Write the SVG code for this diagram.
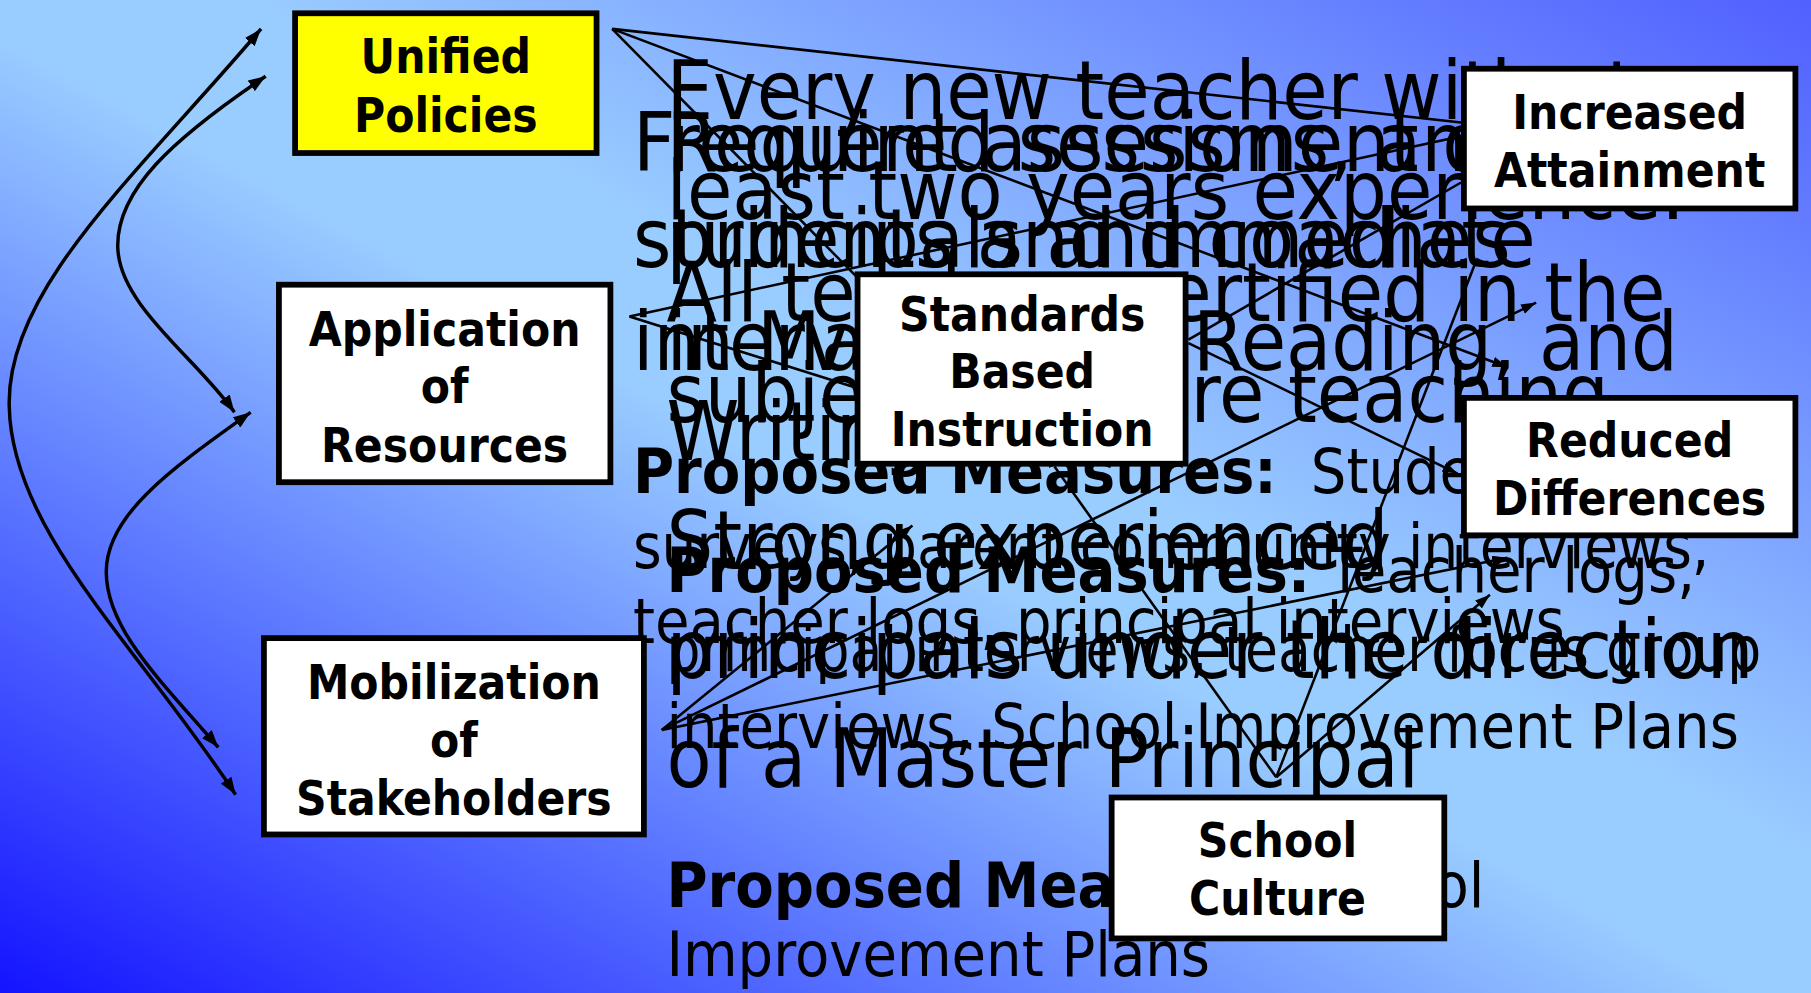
<svg xmlns="http://www.w3.org/2000/svg" width="1811" height="993" viewBox="0 0 1811 993">
<defs>
<linearGradient id="bg" x1="0" y1="1" x2="1" y2="0">
<stop offset="0" stop-color="#1414ff"/>
<stop offset="0.48" stop-color="#99ccff"/>
<stop offset="0.57" stop-color="#99ccff"/>
<stop offset="1" stop-color="#5060ff"/>
</linearGradient>
<marker id="ah" viewBox="0 0 15 11" refX="15" refY="5.5" markerWidth="15" markerHeight="11" markerUnits="userSpaceOnUse" orient="auto-start-reverse"><path d="M0,0 L15,5.5 L0,11 z" fill="#000"/></marker>
<marker id="as" viewBox="0 0 13 9" refX="13" refY="4.5" markerWidth="13" markerHeight="9" markerUnits="userSpaceOnUse" orient="auto"><path d="M0,0 L13,4.5 L0,9 z" fill="#000"/></marker>
</defs>
<style>
.t{font-family:'DejaVu Sans Condensed','DejaVu Sans',sans-serif;font-stretch:condensed;fill:#000}
.big{font-size:71px}
.m{font-size:54px}
.b{font-weight:bold}
.lbl{font-size:41px;font-weight:bold;text-anchor:middle}
.box{fill:#fff;stroke:#000;stroke-width:5}
.yel{fill:#ffff00}
.cv{fill:none;stroke:#000;stroke-width:3}
.ln{fill:none;stroke:#000;stroke-width:2.2}
</style>
<rect x="0" y="0" width="1811" height="993" fill="url(#bg)"/>
<g transform="scale(1.15497)">
<g id="texts">
<text class="t big" x="577" y="103">Every new teacher with at</text>
<text class="t big" x="577" y="190">least two years experience.</text>
<text class="t big" x="577" y="278">All teachers certified in the</text>
<text class="t big" x="577" y="365">subject they are teaching</text>
<text class="t big" x="548" y="148">Frequent assessment of</text>
<text class="t big" x="548" y="231">students and immediate</text>
<text class="t big" x="548" y="320">intervention</text>
<text class="t big" x="577" y="148">Required sessions, and</text>
<text class="t big" x="577" y="231">principals and coaches</text>
<text class="t big" x="577" y="320">in Math, <tspan x="1033">Reading, and</tspan></text>
<text class="t big" x="577" y="398">Writing</text>
<text class="t m" x="548" y="427"><tspan class="b">Proposed Measures:</tspan> <tspan dx="14">Student</tspan></text>
<text class="t m" x="548" y="492" textLength="932" lengthAdjust="spacingAndGlyphs">surveys, parent community interviews,</text>
<text class="t m" x="548" y="557">teacher logs, principal interviews</text>
<text class="t m" x="577" y="513"><tspan class="b">Proposed Measures:</tspan> Teacher logs,</text>
<text class="t m" x="577" y="581" textLength="948" lengthAdjust="spacingAndGlyphs">principal interviews, teacher focus group</text>
<text class="t m" x="577" y="648">interviews, School Improvement Plans</text>
<text class="t big" x="577" y="493">Strong experienced</text>
<text class="t big" x="577" y="587">principals under the direction</text>
<text class="t big" x="577" y="681">of a Master Principal</text>
<text class="t m" x="577" y="785"><tspan class="b">Proposed Measures:</tspan> <tspan x="1124">School</tspan></text>
<text class="t m" x="577" y="845">Improvement Plans</text>
</g>
<g id="connectors">
<path class="cv" d="M226,25 C120,150 5,250 8,352 C10,460 120,560 204,688" marker-start="url(#ah)" marker-end="url(#ah)"/>
<path class="cv" d="M230,66 C150,120 100,165 102,215 C104,265 170,310 203,357" marker-start="url(#ah)" marker-end="url(#ah)"/>
<path class="cv" d="M217,357 C150,405 92,445 92,495 C92,545 140,590 189,647" marker-start="url(#ah)" marker-end="url(#ah)"/>
<line class="ln" x1="530" y1="25" x2="1265" y2="106"/>
<line class="ln" x1="530" y1="25" x2="1305" y2="318" marker-end="url(#as)"/>
<line class="ln" x1="530" y1="25" x2="742" y2="240"/>
<line class="ln" x1="545" y1="274" x2="1265" y2="118"/>
<line class="ln" x1="545" y1="274" x2="742" y2="336"/>
<line class="ln" x1="573" y1="632" x2="790" y2="455" marker-end="url(#as)"/>
<line class="ln" x1="573" y1="632" x2="1330" y2="262" marker-end="url(#as)"/>
<line class="ln" x1="573" y1="632" x2="1305" y2="483" marker-end="url(#as)"/>
<line class="ln" x1="1029" y1="294" x2="1265" y2="158"/>
<line class="ln" x1="1029" y1="297" x2="1262" y2="410" marker-end="url(#as)"/>
<line class="ln" x1="913" y1="404" x2="1105" y2="673"/>
<line class="ln" x1="1105" y1="673" x2="1278" y2="226"/>
<line class="ln" x1="1105" y1="673" x2="1290" y2="515" marker-end="url(#as)"/>
</g>
<g id="node-unified-policies">
<rect class="box yel" x="255.5" y="11.5" width="261" height="121"/>
<text class="t lbl" x="386" y="63">Unified</text>
<text class="t lbl" x="386" y="114">Policies</text>
</g>
<g id="node-application-of-resources">
<rect class="box" x="241.5" y="246.5" width="287" height="171"/>
<text class="t lbl" x="385" y="300">Application</text>
<text class="t lbl" x="385" y="349">of</text>
<text class="t lbl" x="385" y="400">Resources</text>
</g>
<g id="node-mobilization-of-stakeholders">
<rect class="box" x="228.5" y="552.5" width="329" height="170"/>
<text class="t lbl" x="393" y="605">Mobilization</text>
<text class="t lbl" x="393" y="655">of</text>
<text class="t lbl" x="393" y="706">Stakeholders</text>
</g>
<g id="node-standards-based-instruction">
<rect class="box" x="742.5" y="237.5" width="284" height="164"/>
<text class="t lbl" x="885" y="287">Standards</text>
<text class="t lbl" x="885" y="336">Based</text>
<text class="t lbl" x="885" y="386">Instruction</text>
</g>
<g id="node-increased-attainment">
<rect class="box" x="1267.5" y="59.5" width="287" height="121"/>
<text class="t lbl" x="1411" y="112">Increased</text>
<text class="t lbl" x="1411" y="162">Attainment</text>
</g>
<g id="node-reduced-differences">
<rect class="box" x="1267.5" y="344.5" width="287" height="119"/>
<text class="t lbl" x="1411" y="396">Reduced</text>
<text class="t lbl" x="1411" y="446">Differences</text>
</g>
<g id="node-school-culture">
<rect class="box" x="962.5" y="690.5" width="288" height="122"/>
<text class="t lbl" x="1106" y="742">School</text>
<text class="t lbl" x="1106" y="792">Culture</text>
</g>
</g>
</svg>
